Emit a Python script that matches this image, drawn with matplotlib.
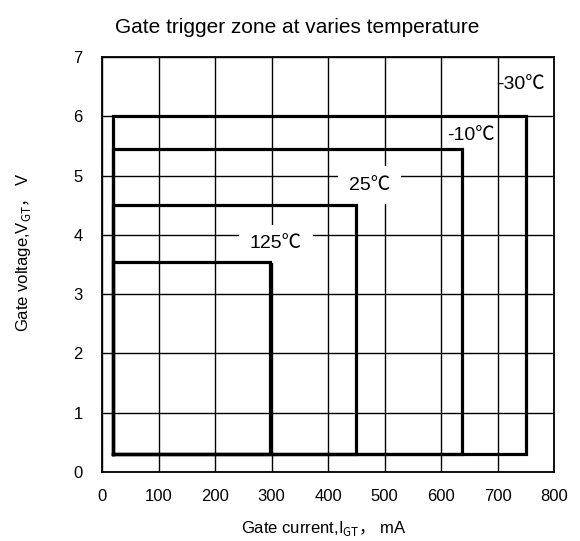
import matplotlib
matplotlib.use("Agg")
import matplotlib.pyplot as plt

plt.rcParams['font.family'] = ['Liberation Sans', 'Noto Sans CJK SC']
plt.rcParams['mathtext.fontset'] = 'custom'
plt.rcParams['mathtext.rm'] = 'Noto Sans CJK SC'

# gate trigger zones (rectangles) per temperature
temps = ['-30℃', '-10℃', '25℃', '125℃']
igt_max = [750, 638, 450, 298]     # mA
vgt_max = [6.0, 5.45, 4.5, 3.55]   # V
igt_min = 20
vgt_min = 0.3

x_ticks = [0, 100, 200, 300, 400, 500, 600, 700, 800]
y_ticks = [0, 1, 2, 3, 4, 5, 6, 7]

# label placement (x, y, white box?)
label_pos = [(741, 6.54, False), (653, 5.67, False), (473, 4.84, True), (308, 3.85, True)]

fig = plt.figure(figsize=(5.8, 5.41), dpi=100)
ax = fig.add_axes([0.1759, 0.1275, 0.7793, 0.7671])

for xm, ym in zip(igt_max, vgt_max):
    ax.plot([igt_min, igt_min, xm, xm, igt_min], [vgt_min, ym, ym, vgt_min, vgt_min],
            color='black', lw=2.3, zorder=4, solid_joinstyle='miter')

for t, (lx, ly, boxed) in zip(temps, label_pos):
    kw = {}
    if boxed:
        kw['bbox'] = dict(boxstyle='square,pad=0.55', fc='white', ec='none')
    ax.text(lx, ly, t, ha='center', va='center', fontsize=14, zorder=3, **kw)

ax.set_xlim(0, 800)
ax.set_ylim(0, 7)
ax.set_xticks(x_ticks)
ax.set_yticks(y_ticks)
ax.tick_params(length=0, labelsize=12)
ax.tick_params(axis='x', pad=12)
ax.tick_params(axis='y', pad=14)
ax.grid(True, color='black', lw=1.0, zorder=1)
ax.set_axisbelow(True)
for s in ax.spines.values():
    s.set_linewidth(1.3)

fig.text(0.512, 0.950, 'Gate trigger zone at varies temperature', ha='center', va='center', fontsize=15)
fig.text(0.5586, 0.024, r'Gate current,I$_{\mathrm{GT}}\mathrm{，}$ mA', ha='center', va='center', fontsize=12)
fig.text(0.0397, 0.534, r'Gate voltage,V$_{\mathrm{GT}}\mathrm{，}$ V', ha='center', va='center',
         rotation=90, fontsize=12)

fig.savefig('out.png', dpi=100)
